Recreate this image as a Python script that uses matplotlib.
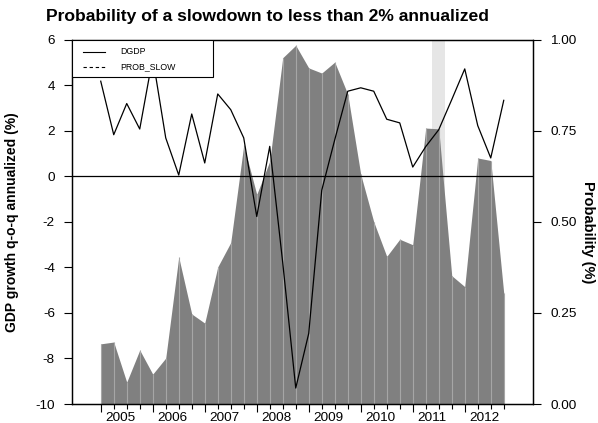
import matplotlib
matplotlib.use("Agg")
import matplotlib.pyplot as plt
import numpy as np
from matplotlib.patches import Rectangle

plt.rcParams["font.family"] = ["Liberation Sans", "DejaVu Sans"]
plt.rcParams["axes.unicode_minus"] = False

# quarterly series, 2005Q1 .. 2012Q4
years = [2005, 2006, 2007, 2008, 2009, 2010, 2011, 2012]
dgdp = [4.17, 1.82, 3.19, 2.07, 5.2, 1.68, 0.05, 2.73,
        0.58, 3.61, 2.92, 1.68, -1.77, 1.31, -3.8, -9.3,
        -6.9, -0.62, 1.6, 3.73, 3.88, 3.73, 2.5, 2.34,
        0.4, 1.3, 2.04, 3.36, 4.71, 2.22, 0.8, 3.33]
prob_slow = [0.165, 0.17, 0.06, 0.148, 0.082, 0.126, 0.403, 0.247,
             0.222, 0.376, 0.443, 0.71, 0.575, 0.666, 0.95, 0.984,
             0.922, 0.908, 0.938, 0.85, 0.63, 0.50, 0.405, 0.452,
             0.437, 0.757, 0.755, 0.352, 0.322, 0.675, 0.668, 0.304]
shade_span = (25.5, 26.5)  # highlighted quarter, 2011Q3

q = np.arange(len(dgdp))
W, H = 598, 423

fig = plt.figure(figsize=(W / 100, H / 100), dpi=100)
ax = fig.add_axes([72 / W, 1 - 404 / H, (533 - 72) / W, (404 - 39.5) / H])
ax2 = ax.twinx()

# probability area on the right axis, behind the growth line
ax2.axvspan(*shade_span, color="#e6e6e6", lw=0, zorder=0)
ax2.fill_between(q, 0, prob_slow, color="#808080", lw=0, zorder=1)
ax2.vlines(q, 0, prob_slow, color="#a6a6a6", lw=0.8, zorder=2)
ax2.set_ylim(0, 1)
ax2.set_yticks([0, 0.25, 0.5, 0.75, 1.0], ["0.00", "0.25", "0.50", "0.75", "1.00"])

ax.set_zorder(ax2.get_zorder() + 1)
ax.patch.set_visible(False)
ax.axhline(0, color="black", lw=0.9, zorder=3)
ax.plot(q, dgdp, color="black", lw=0.9, zorder=4)
ax.set_ylim(-10, 6)
ax.set_yticks(np.arange(-10, 7, 2))
ax.set_xlim(-2.21, 33.25)

# long ticks at year starts, short ticks at the other quarters
year_start = q[q % 4 == 0]
ax.set_xticks(year_start, [""] * len(year_start))
ax.set_xticks(q[q % 4 != 0], minor=True)
ax.tick_params(axis="x", which="major", length=5.8, width=0.8)
ax.tick_params(axis="x", which="minor", length=3.6, width=0.8)
xfm = ax.get_xaxis_transform()
for i, y in enumerate(years):
    ax.text(4 * i + 1.5, -0.021, str(y), transform=xfm, ha="center", va="top", fontsize=9.7)

ax.tick_params(axis="y", length=5.8, width=0.8, pad=6.5, labelsize=9.7)
ax2.tick_params(axis="y", length=5.8, width=0.8, pad=6.5, labelsize=9.7)
for a in (ax, ax2):
    for s in a.spines.values():
        s.set_linewidth(0.9)

fig.text(12 / W, 1 - 222 / H, "GDP growth q-o-q annualized (%)", rotation=90,
         ha="center", va="center", fontsize=10, fontweight="bold")
fig.text(588 / W, 1 - 232 / H, "Probability (%)", rotation=270,
         ha="center", va="center", fontsize=10.5, fontweight="bold")

# legend box in the upper left corner
lx1 = (213 - 72) / 461
ly0 = 1 - (77 - 39.5) / 364.5
ax.add_patch(Rectangle((0, ly0), lx1, 1 - ly0, transform=ax.transAxes,
                       facecolor="white", edgecolor="black", lw=0.8, zorder=10))
entries = [("DGDP", "-", 0.9665), ("PROB_SLOW", (0, (3, 2.5)), 0.925)]
for name, style, yy in entries:
    ax.plot([0.024, 0.0716], [yy, yy], transform=ax.transAxes, color="black",
            lw=0.8, ls=style, zorder=11)
    ax.text(0.104, yy, name, transform=ax.transAxes, ha="left", va="center",
            fontsize=6.3, zorder=11)

fig.text(267.5 / W, 1 - 17 / H, "Probability of a slowdown to less than 2% annualized",
         ha="center", va="center", fontsize=12.6, fontweight="bold")

fig.savefig("out.png", dpi=100)
